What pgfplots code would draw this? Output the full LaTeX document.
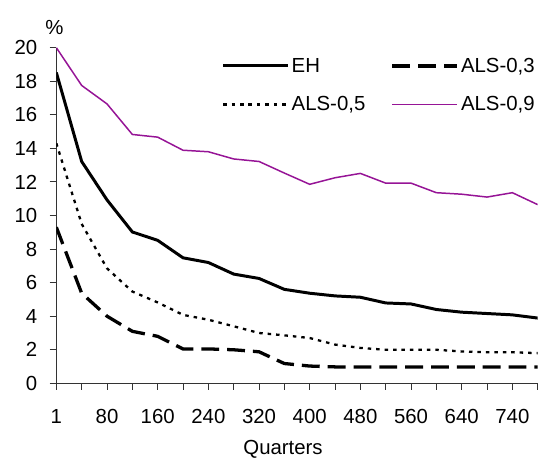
\documentclass[border=0pt]{standalone}
\usepackage{fontspec}
\setmainfont{Liberation Sans}
\usepackage{pgfplots}
\pgfplotsset{compat=1.18}
\definecolor{purp}{RGB}{150,20,150}

\begin{document}
\begin{tikzpicture}
\begin{axis}[
  name=ax,
  scale only axis,
  width=484.3pt, height=337.7pt,
  xmin=0, xmax=19, ymin=0, ymax=20,
  axis lines*=left,
  axis line style={line width=1pt, black!80},
  tick style={line width=1pt, black!80},
  tick align=outside,
  major tick length=6.7pt,
  xtick={0,...,19},
  xticklabels={1,,80,,160,,240,,320,,400,,480,,560,,640,,740,},
  ytick={0,2,...,20},
  font=\fontsize{20.5}{24}\selectfont,
  /pgf/number format/assume math mode=true,
  xticklabel style={yshift=-16pt},
  yticklabel style={xshift=-9pt},
  xlabel={Quarters},
  xlabel style={at={(axis description cs:0.471,0)}, anchor=center, yshift=-66pt},
  ylabel={\%},
  ylabel style={rotate=-90, at={(axis description cs:0,1)}, anchor=south, yshift=10pt, xshift=-2pt},
  legend columns=2,
  legend cell align=left,
  legend image code/.code={\draw[#1] (0pt,0pt) -- (65pt,0pt);},
  legend style={draw=none, fill=none, at={(0.343,0.977)}, anchor=north west,
    inner sep=0pt, row sep=18pt, nodes={inner sep=2.5pt},
    /tikz/every even column/.append style={column sep=23pt}},
]
\addplot[black, line width=3pt] coordinates {
  (0,18.52) (1,13.22) (2,10.93) (3,9.02) (4,8.52) (5,7.48) (6,7.2) (7,6.51) (8,6.25) (9,5.60)
  (10,5.37) (11,5.21) (12,5.13) (13,4.79) (14,4.73) (15,4.40) (16,4.24) (17,4.16) (18,4.08) (19,3.89)
};
\addlegendentry{EH}
\addplot[black, line width=3.3pt, dash pattern=on 18pt off 8pt] coordinates {
  (0,9.3) (1,5.37) (2,4.0) (3,3.1) (4,2.8) (5,2.05) (6,2.05) (7,2.0) (8,1.88) (9,1.18)
  (10,1.03) (11,0.98) (12,0.98) (13,0.97) (14,0.97) (15,0.97) (16,0.97) (17,0.97) (18,0.97) (19,0.97)
};
\addlegendentry{ALS-0,3}
\addplot[black, line width=2.3pt, dash pattern=on 3.5pt off 5pt] coordinates {
  (0,14.3) (1,9.5) (2,6.85) (3,5.47) (4,4.82) (5,4.08) (6,3.79) (7,3.4) (8,3.0) (9,2.86)
  (10,2.7) (11,2.31) (12,2.11) (13,2.0) (14,2.0) (15,2.0) (16,1.9) (17,1.85) (18,1.85) (19,1.8)
};
\addlegendentry{ALS-0,5}
\addplot[purp, line width=1.5pt] coordinates {
  (0,20.0) (1,17.75) (2,16.65) (3,14.83) (4,14.67) (5,13.89) (6,13.8) (7,13.37) (8,13.22) (9,12.53)
  (10,11.86) (11,12.25) (12,12.51) (13,11.93) (14,11.93) (15,11.36) (16,11.27) (17,11.1) (18,11.36) (19,10.65)
};
\addlegendentry{ALS-0,9}
\end{axis}
\path ([xshift=-56.7pt,yshift=-71pt]ax.south west) rectangle ([yshift=48pt]ax.north east);
\end{tikzpicture}
\end{document}
